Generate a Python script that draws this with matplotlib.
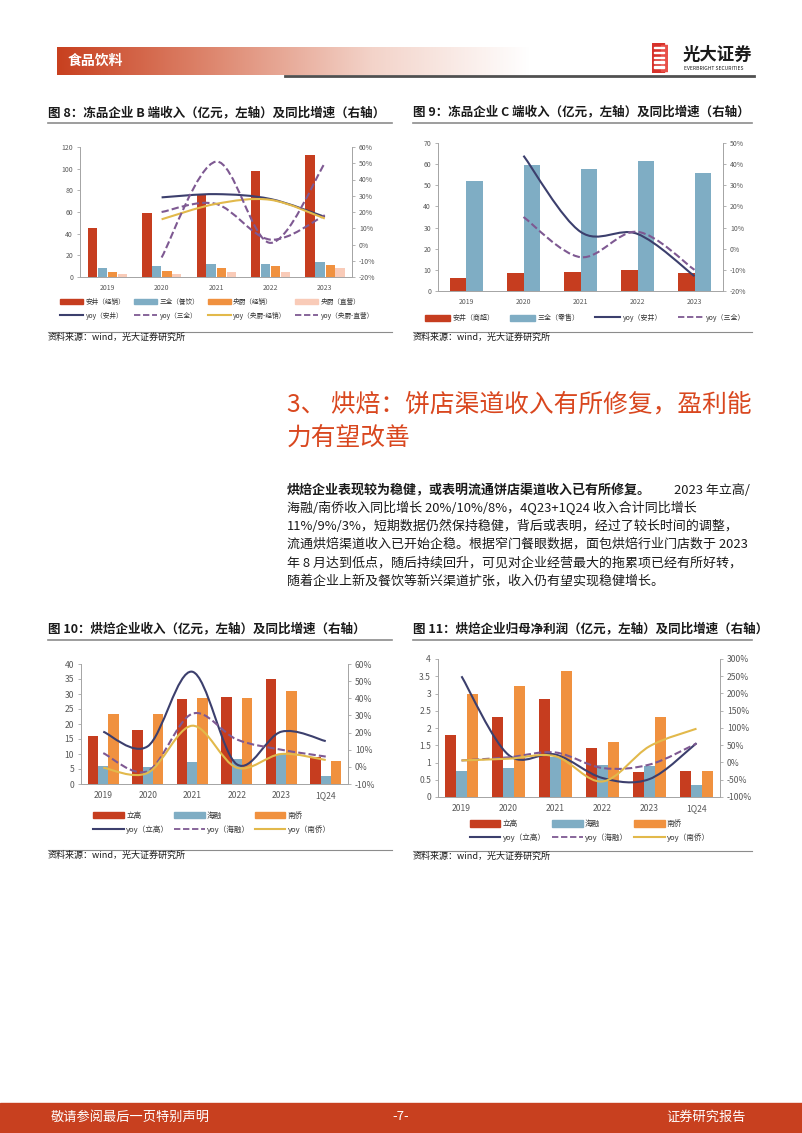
import matplotlib
matplotlib.use("Agg")
import matplotlib.pyplot as plt
import numpy as np
from matplotlib.path import Path
from matplotlib.patches import PathPatch, Patch, Rectangle
from matplotlib.lines import Line2D
from matplotlib.colors import LinearSegmentedColormap

plt.rcParams['font.family'] = ['Noto Sans CJK SC', 'DejaVu Sans']

W, H = 802, 1133

# ---- data: chart 8 (B-end revenue) ----
years5 = ["2019", "2020", "2021", "2022", "2023"]
anjing_b = [45, 59, 77, 98, 113]
sanquan_b = [8, 10, 12, 12, 14]
yangchu_jx = [5, 6, 8, 10, 11]
yangchu_zy = [3, 3, 5, 5, 8]
yoy8_anjing = [29, 31, 28, 17]
yoy8_sanquan = [20, 25, 3, 18]
yoy8_yc_jx = [15.5, 25, 27.5, 16]
yoy8_yc_zy = [-8, 51, 1, 50]

# ---- data: chart 9 (C-end revenue) ----
anjing_c = [6, 8.5, 9, 10, 8.5]
sanquan_c = [52, 59.5, 57.5, 61.5, 56]
yoy9_anjing = [44, 8, 7, -13]
yoy9_sanquan = [15, -4, 8, -10]

# ---- data: chart 10 (bakery revenue) ----
years6 = ["2019", "2020", "2021", "2022", "2023", "1Q24"]
ligao_rev = [16, 18, 28.2, 29, 35, 9]
hairong_rev = [6, 5.6, 7.5, 8.5, 10, 2.6]
nanqiao_rev = [23.5, 23.3, 28.7, 28.7, 31, 7.7]
yoy10_ligao = [20.5, 12, 55.5, 1.5, 20.5, 15]
yoy10_hairong = [8, -2.5, 31, 16, 10, 6]
yoy10_nanqiao = [-0.5, -3.5, 24, -0.5, 7.5, 4]

# ---- data: chart 11 (bakery net profit) ----
ligao_np = [1.8, 2.32, 2.83, 1.43, 0.72, 0.76]
hairong_np = [0.76, 0.85, 1.15, 0.93, 0.9, 0.36]
nanqiao_np = [2.98, 3.23, 3.65, 1.6, 2.32, 0.76]
yoy11_ligao = [250, 22, 23, -45, -48, 56]
yoy11_hairong = [6, 15, 29, -16, -6, 55]
yoy11_nanqiao = [6, 11, 18, -55, 47, 98]

RED = "#C63D1F"
BLUE = "#7FADC4"
ORANGE = "#F0913F"
PINK = "#F9CBB8"
NAVY = "#3C3F6D"
PURPLE = "#7E5992"
YELLOW = "#E2B94B"
GRAY = "#595959"
TITLE_RED = "#D9471F"
DASH = (0, (3.5, 1.5))


def fx(x):
    return x / W


def fy(y):
    return 1 - y / H


def smooth(xs, ys):
    # Excel-like smoothed line drawn as cubic bezier through the data points
    pts = list(zip(xs, ys))
    n = len(pts)
    verts = [pts[0]]
    codes = [Path.MOVETO]
    for i in range(n - 1):
        p0 = pts[i - 1] if i > 0 else pts[i]
        p1 = pts[i]
        p2 = pts[i + 1]
        p3 = pts[i + 2] if i + 2 < n else pts[i + 1]
        c1 = (p1[0] + (p2[0] - p0[0]) / 6, p1[1] + (p2[1] - p0[1]) / 6)
        c2 = (p2[0] - (p3[0] - p1[0]) / 6, p2[1] - (p3[1] - p1[1]) / 6)
        verts += [c1, c2, p2]
        codes += [Path.CURVE4] * 3
    return Path(verts, codes)


def add_line(ax, xs, ys, color, dashed=False, lw=1.5):
    ls = DASH if dashed else "-"
    ax.add_patch(PathPatch(smooth(xs, ys), fill=False, edgecolor=color,
                           lw=lw, linestyle=ls, capstyle="butt"))


def make_axes(box, cats, ylim, yticks, y2lim, y2ticks, fs):
    l, r, t, b = box
    ax = fig.add_axes([fx(l), fy(b), fx(r - l), (b - t) / H])
    ax.set_xlim(-0.5, len(cats) - 0.5)
    ax.set_ylim(*ylim)
    ax.set_yticks(yticks)
    ax.set_yticklabels([("%g" % v) for v in yticks])
    ax.set_xticks(range(len(cats)))
    ax.set_xticklabels(cats)
    ax.spines["top"].set_visible(False)
    for s in ["left", "bottom", "right"]:
        ax.spines[s].set_color("#A6A6A6")
        ax.spines[s].set_linewidth(0.7)
    ax.tick_params(axis="x", length=0, labelsize=fs, colors=GRAY, pad=5)
    ax.tick_params(axis="y", length=2, width=0.6, color="#A6A6A6",
                   labelsize=fs, labelcolor=GRAY, pad=3)
    ax2 = ax.twinx()
    ax2.set_ylim(*y2lim)
    ax2.set_yticks(y2ticks)
    ax2.set_yticklabels(["%d%%" % v for v in y2ticks])
    ax2.spines["top"].set_visible(False)
    for s in ["left", "bottom", "right"]:
        ax2.spines[s].set_color("#A6A6A6")
        ax2.spines[s].set_linewidth(0.7)
    ax2.tick_params(axis="y", length=2, width=0.6, color="#A6A6A6",
                    labelsize=fs, labelcolor=GRAY, pad=3)
    return ax, ax2


def chart_frame(title, x0, x1, ty, uy, sy):
    fig.text(fx(x0), fy(ty), title, fontsize=9, fontweight="bold",
             va="center", ha="left", color="#1A1A1A")
    fig.add_artist(Line2D([fx(x0), fx(x1)], [fy(uy), fy(uy)],
                          color="#8C8C8C", lw=1.2))
    fig.add_artist(Line2D([fx(x0), fx(x1)], [fy(sy - 5), fy(sy - 5)],
                          color="#8C8C8C", lw=0.8))
    fig.text(fx(x0), fy(sy), "资料来源：wind，光大证券研究所", fontsize=6.5,
             va="center", ha="left", color="#1A1A1A")


fig = plt.figure(figsize=(W / 100, H / 100), dpi=100)

# ---------------- header ----------------
gax = fig.add_axes([fx(57), fy(75), fx(530 - 57), 28 / H])
gax.axis("off")
cmap = LinearSegmentedColormap.from_list("hdr", ["#C8401F", "#DE8870", "#F3D3C9", "#FFFFFF"])
gax.imshow(np.linspace(0, 1, 256).reshape(1, -1), aspect="auto", cmap=cmap,
           extent=[0, 1, 0, 1])
fig.text(fx(68), fy(61), "食品饮料", fontsize=10, fontweight="bold",
         color="white", va="center", ha="left")
fig.add_artist(Line2D([fx(285), fx(754)], [fy(76), fy(76)], color="#505050", lw=2))

# logo
lax = fig.add_axes([fx(652), fy(73), fx(16), 30 / H])
lax.axis("off")
lax.set_xlim(0, 1)
lax.set_ylim(0, 1)
lax.add_patch(Rectangle((0, 0), 0.75, 1, color="#D7322B"))
lax.add_patch(Rectangle((0.55, 0.08), 0.45, 0.84, color="#E8514A"))
for yy in [0.18, 0.34, 0.5, 0.66, 0.82]:
    lax.add_patch(Rectangle((0.15, yy), 0.6, 0.05, color="white"))
fig.text(fx(683), fy(55), "光大证券", fontsize=12.5, fontweight="bold",
         color="#1A1A1A", va="center", ha="left")
fig.text(fx(684), fy(68), "EVERBRIGHT SECURITIES", fontsize=3.6,
         color="#1A1A1A", va="center", ha="left")

# ---------------- chart 8 ----------------
chart_frame("图 8：冻品企业 B 端收入（亿元，左轴）及同比增速（右轴）", 48, 392, 113, 123, 337)
x5 = np.arange(len(years5))
ax, ax2 = make_axes((80, 352, 147, 277), years5, (0, 120), range(0, 121, 20),
                    (-20, 60), range(-20, 61, 10), 5)
w = 0.17
ax.bar(x5 - 0.27, anjing_b, w, color=RED)
ax.bar(x5 - 0.09, sanquan_b, w, color=BLUE)
ax.bar(x5 + 0.10, yangchu_jx, w, color=ORANGE)
ax.bar(x5 + 0.28, yangchu_zy, w, color=PINK)
add_line(ax2, x5[1:], yoy8_anjing, NAVY)
add_line(ax2, x5[1:], yoy8_sanquan, PURPLE, dashed=True)
add_line(ax2, x5[1:], yoy8_yc_jx, YELLOW)
add_line(ax2, x5[1:], yoy8_yc_zy, PURPLE, dashed=True)
h = [Patch(color=RED), Line2D([], [], color=NAVY, lw=1.5),
     Patch(color=BLUE), Line2D([], [], color=PURPLE, lw=1.3, ls=DASH),
     Patch(color=ORANGE), Line2D([], [], color=YELLOW, lw=1.5),
     Patch(color=PINK), Line2D([], [], color=PURPLE, lw=1.3, ls=DASH)]
lb = ["安井（经销）", "yoy（安井）", "三全（餐饮）", "yoy（三全）",
      "央厨（经销）", "yoy（央厨-经销）", "央厨（直营）", "yoy（央厨-直营）"]
fig.legend(h, lb, ncol=4, loc="center", bbox_to_anchor=(fx(217), fy(309)),
           frameon=False, fontsize=4.8, handlelength=3.4, handleheight=0.9,
           handletextpad=0.4, columnspacing=1.3, labelspacing=0.9,
           labelcolor="#333333")

# ---------------- chart 9 ----------------
chart_frame("图 9：冻品企业 C 端收入（亿元，左轴）及同比增速（右轴）", 413, 752, 112, 123, 337)
ax, ax2 = make_axes((438, 723, 143, 291), years5, (0, 70), range(0, 71, 10),
                    (-20, 50), range(-20, 51, 10), 5)
ax.bar(x5 - 0.145, anjing_c, 0.29, color=RED)
ax.bar(x5 + 0.145, sanquan_c, 0.29, color=BLUE)
add_line(ax2, x5[1:], yoy9_anjing, NAVY)
add_line(ax2, x5[1:], yoy9_sanquan, PURPLE, dashed=True)
h = [Patch(color=RED), Patch(color=BLUE), Line2D([], [], color=NAVY, lw=1.5),
     Line2D([], [], color=PURPLE, lw=1.3, ls=DASH)]
lb = ["安井（商超）", "三全（零售）", "yoy（安井）", "yoy（三全）"]
fig.legend(h, lb, ncol=4, loc="center", bbox_to_anchor=(fx(585), fy(318)),
           frameon=False, fontsize=5, handlelength=3.6, handleheight=0.9,
           handletextpad=0.4, columnspacing=2.2, labelcolor="#333333")

# ---------------- section text ----------------
fig.text(fx(287), fy(405), "3、 烘焙：饼店渠道收入有所修复，盈利能", fontsize=17.8,
         color=TITLE_RED, va="center", ha="left")
fig.text(fx(287), fy(438), "力有望改善", fontsize=17.8, color=TITLE_RED,
         va="center", ha="left")
fig.text(fx(287), fy(490), "烘焙企业表现较为稳健，或表明流通饼店渠道收入已有所修复。",
         fontsize=9.35, fontweight="bold", color="#1A1A1A", va="center", ha="left")
fig.text(fx(750), fy(490), "2023 年立高/", fontsize=9.35, color="#1A1A1A",
         va="center", ha="right")
para = [
    "海融/南侨收入同比增长 20%/10%/8%，4Q23+1Q24 收入合计同比增长",
    "11%/9%/3%，短期数据仍然保持稳健，背后或表明，经过了较长时间的调整，",
    "流通烘焙渠道收入已开始企稳。根据窄门餐眼数据，面包烘焙行业门店数于 2023",
    "年 8 月达到低点，随后持续回升，可见对企业经营最大的拖累项已经有所好转，",
    "随着企业上新及餐饮等新兴渠道扩张，收入仍有望实现稳健增长。",
]
for i, line in enumerate(para):
    fig.text(fx(287), fy(508 + i * 18.2), line, fontsize=9.35, color="#1A1A1A",
             va="center", ha="left")

# ---------------- chart 10 ----------------
chart_frame("图 10：烘焙企业收入（亿元，左轴）及同比增速（右轴）", 48, 392, 629, 640, 855)
x6 = np.arange(len(years6))
ax, ax2 = make_axes((81, 348, 664, 784), years6, (0, 40), range(0, 41, 5),
                    (-10, 60), range(-10, 61, 10), 6.2)
w = 0.235
ax.bar(x6 - 0.235, ligao_rev, w, color=RED)
ax.bar(x6, hairong_rev, w, color=BLUE)
ax.bar(x6 + 0.235, nanqiao_rev, w, color=ORANGE)
add_line(ax2, x6, yoy10_ligao, NAVY)
add_line(ax2, x6, yoy10_hairong, PURPLE, dashed=True)
add_line(ax2, x6, yoy10_nanqiao, YELLOW)
h = [Patch(color=RED), Line2D([], [], color=NAVY, lw=1.5),
     Patch(color=BLUE), Line2D([], [], color=PURPLE, lw=1.3, ls=DASH),
     Patch(color=ORANGE), Line2D([], [], color=YELLOW, lw=1.5)]
lb = ["立高", "yoy（立高）", "海融", "yoy（海融）", "南侨", "yoy（南侨）"]
fig.legend(h, lb, ncol=3, loc="center", bbox_to_anchor=(fx(212), fy(823)),
           frameon=False, fontsize=5.5, handlelength=4.0, handleheight=1.0,
           handletextpad=0.3, columnspacing=0.6, labelspacing=0.8,
           labelcolor="#333333")

# ---------------- chart 11 ----------------
chart_frame("图 11：烘焙企业归母净利润（亿元，左轴）及同比增速（右轴）", 413, 752, 629, 640, 856)
ax, ax2 = make_axes((438, 720, 659, 797), years6, (0, 4), np.arange(0, 4.01, 0.5),
                    (-100, 300), range(-100, 301, 50), 6.2)
w = 0.23
ax.bar(x6 - 0.23, ligao_np, w, color=RED)
ax.bar(x6, hairong_np, w, color=BLUE)
ax.bar(x6 + 0.23, nanqiao_np, w, color=ORANGE)
add_line(ax2, x6, yoy11_ligao, NAVY)
add_line(ax2, x6, yoy11_hairong, PURPLE, dashed=True)
add_line(ax2, x6, yoy11_nanqiao, YELLOW)
fig.legend(h, lb, ncol=3, loc="center", bbox_to_anchor=(fx(590), fy(831)),
           frameon=False, fontsize=5.5, handlelength=4.0, handleheight=1.0,
           handletextpad=0.3, columnspacing=0.8, labelspacing=0.7,
           labelcolor="#333333")

# ---------------- footer ----------------
fig.add_artist(Rectangle((0, 0), 1, fy(1103), transform=fig.transFigure,
                         color="#C8401F", zorder=0))
fig.text(fx(51), fy(1117), "敬请参阅最后一页特别声明", fontsize=9.5, color="white",
         va="center", ha="left")
fig.text(fx(401), fy(1117), "-7-", fontsize=9.5, color="white",
         va="center", ha="center")
fig.text(fx(746), fy(1117), "证券研究报告", fontsize=9.5, color="white",
         va="center", ha="right")

fig.savefig("out.png", dpi=100)
